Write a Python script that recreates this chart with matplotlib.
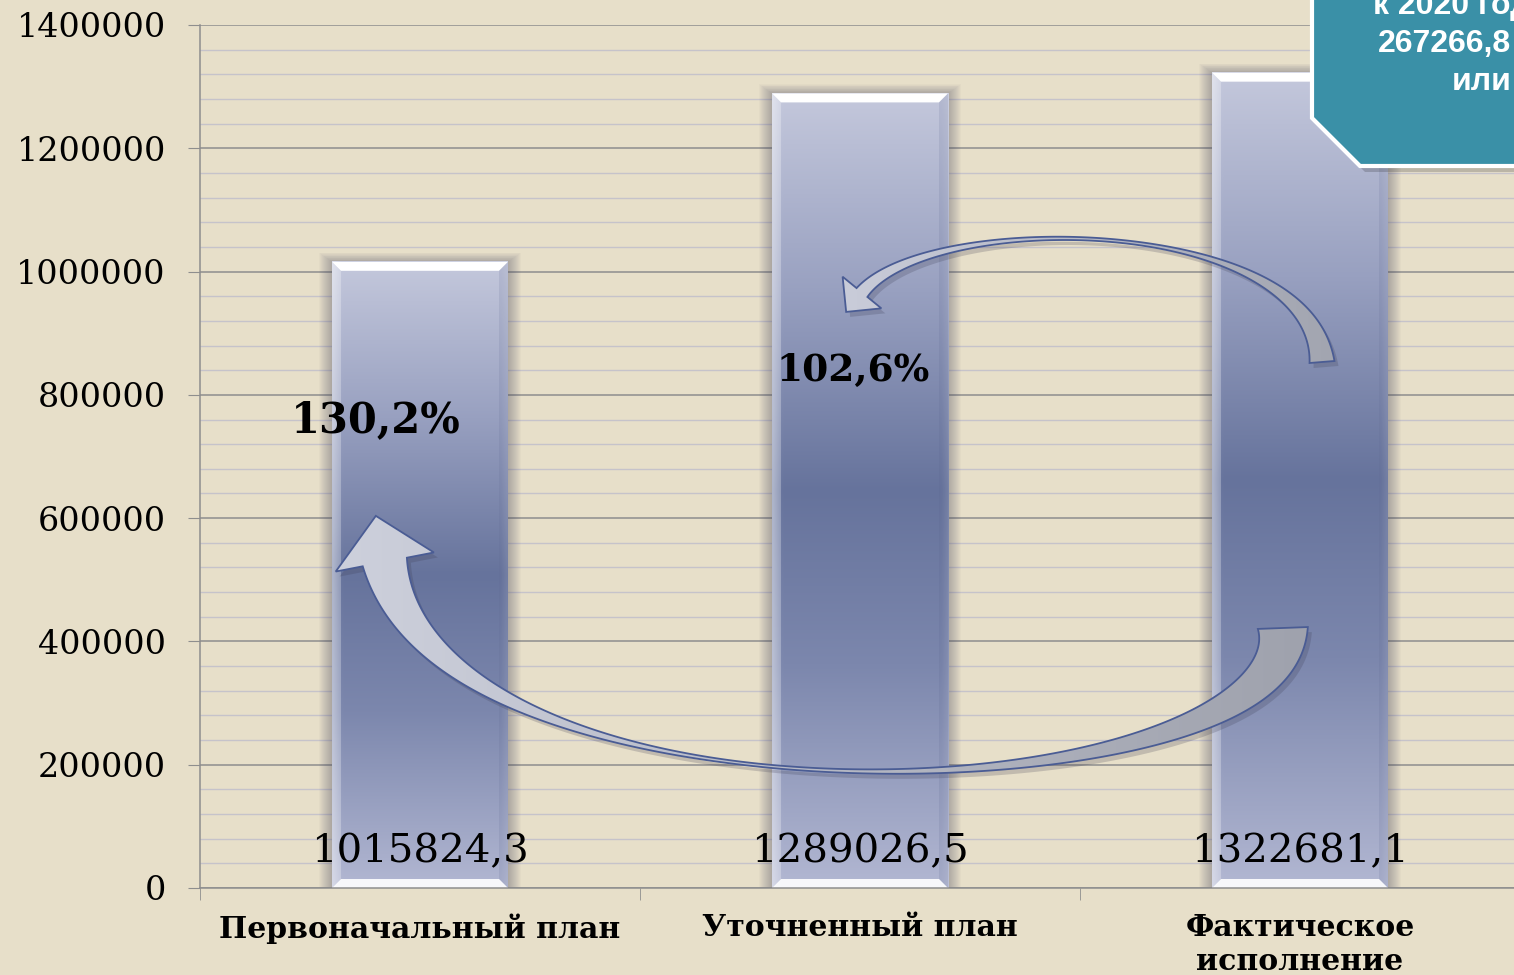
import matplotlib
matplotlib.use("Agg")
import matplotlib.pyplot as plt
import numpy as np
from matplotlib.patches import Polygon, Rectangle
from matplotlib.colors import to_rgb

# --- data ------------------------------------------------------------------
categories = ["Первоначальный план", "Уточненный план", "Фактическое\nисполнение"]
values = [1015824.3, 1289026.5, 1322681.1]
value_labels = ["1015824,3", "1289026,5", "1322681,1"]
growth_labels = ["130,2%", "102,6%"]
note_lines = ["к 2020 году", "267266,8", "или"]
y_max, y_step, y_minor = 1400000, 200000, 40000

# --- style -------------------------------------------------------------------
BG = "#e7dfc9"
GRID_MAJ, GRID_MIN = "#8e8e8e", "#c6c3ca"
BAR_STOPS = [(0.0, "#c4c8dc"), (0.25, "#98a0c0"), (0.5, "#66739c"),
             (0.72, "#7c87ad"), (1.0, "#b2b7d2")]
ARROW_EDGE = "#4a5c94"
TEAL = "#3a90a7"
SERIF = "DejaVu Serif"

W, H = 1514, 975
fig = plt.figure(figsize=(W / 100, H / 100), dpi=100, facecolor=BG)
ax = fig.add_axes([200 / W, 87 / H, 1320 / W, 863 / H])
ax.set_facecolor(BG)
ax.set_xlim(-0.5, 2.5)
ax.set_ylim(0, y_max)


def pxx(p):
    return p / 440.0


def pxy(p):
    return p * y_max / 863.0


def grad(stops, n=256):
    t = np.linspace(0, 1, n)
    pos = [s[0] for s in stops]
    cols = np.array([to_rgb(s[1]) for s in stops])
    return np.stack([np.interp(t, pos, cols[:, k]) for k in range(3)], axis=1)


# --- grid / axes ------------------------------------------------------------
ax.set_yticks(np.arange(0, y_max + 1, y_step))
ax.set_yticks(np.arange(0, y_max + 1, y_minor), minor=True)
ax.set_yticklabels([str(int(v)) for v in np.arange(0, y_max + 1, y_step)],
                   family=SERIF, fontsize=24)
ax.grid(which="major", axis="y", color=GRID_MAJ, lw=1.1, zorder=0)
ax.grid(which="minor", axis="y", color=GRID_MIN, lw=1.0, zorder=0)
ax.set_axisbelow(True)
ax.tick_params(axis="y", which="major", length=8.6, color=GRID_MAJ, pad=16)
ax.tick_params(axis="y", which="minor", length=0)
for s in ("top", "right"):
    ax.spines[s].set_visible(False)
for s in ("left", "bottom"):
    ax.spines[s].set_color(GRID_MAJ)
    ax.spines[s].set_linewidth(1.1)

x = np.arange(len(categories))
ax.set_xticks(x)
ax.set_xticklabels(categories, family=SERIF, fontsize=21.5, fontweight="bold",
                   linespacing=1.2)
ax.set_xticks(np.arange(-0.5, len(categories), 1.0), minor=True)
ax.tick_params(axis="x", which="major", length=0, pad=18)
ax.tick_params(axis="x", which="minor", length=8.6, color=GRID_MAJ)

# --- bars ----------------------------------------------------------------------
bars = ax.bar(x, values, width=0.4, color="none", zorder=2.5)
col = grad(BAR_STOPS)
for b in bars:
    x0, bw, h = b.get_x(), b.get_width(), b.get_height()
    x1 = x0 + bw
    # soft shadow
    for k in range(1, 14):
        ax.add_patch(Rectangle((x0 - pxx(k), 0), bw + 2 * pxx(k), h + pxy(k * 0.7),
                               color="#4d4d66", alpha=0.03, lw=0, zorder=1.5))
    img = np.repeat(col[:, None, :], 64, axis=1)
    cx = np.linspace(0, 1, 64)
    light = np.clip(1 - cx / 0.05, 0, 1) * 0.28 + np.clip((cx - 0.96) / 0.04, 0, 1) * 0.12
    img = img * (1 - light[None, :, None]) + light[None, :, None]
    ax.imshow(img, extent=(x0, x1, 0, h), aspect="auto", zorder=2,
              interpolation="bilinear")
    e, ey = pxx(9), pxy(9)
    ax.add_patch(Polygon([(x0, h), (x1, h), (x1 - e, h - ey), (x0 + e, h - ey)],
                         closed=True, color="white", lw=0, zorder=2.2))
    ax.add_patch(Polygon([(x0, h), (x0 + e, h - ey), (x0 + e, ey), (x0, 0)],
                         closed=True, color="white", alpha=0.25, lw=0, zorder=2.2))
    ax.add_patch(Polygon([(x1, h), (x1 - e, h - ey), (x1 - e, ey), (x1, 0)],
                         closed=True, color="#55608a", alpha=0.15, lw=0, zorder=2.2))
    ax.add_patch(Polygon([(x0, 0), (x1, 0), (x1 - e, ey), (x0 + e, ey)],
                         closed=True, color="white", alpha=0.9, lw=0, zorder=2.2))

for xi, lab in zip(x, value_labels):
    ax.text(xi, pxy(36), lab, ha="center", va="center", family=SERIF,
            fontsize=29, zorder=8)


# --- curved arrows -------------------------------------------------------------
def curved_arrow(ctrl, w_tail, w_min, t_min, w_neck, head_len, head_half,
                 c_head, c_tail):
    P = ax.transData.transform(np.asarray(ctrl, float))
    t = np.linspace(0, 1, 300)[:, None]
    B = ((1 - t) ** 3) * P[0] + 3 * ((1 - t) ** 2) * t * P[1] \
        + 3 * (1 - t) * t ** 2 * P[2] + t ** 3 * P[3]
    D = 3 * ((1 - t) ** 2) * (P[1] - P[0]) + 6 * (1 - t) * t * (P[2] - P[1]) \
        + 3 * t ** 2 * (P[3] - P[2])
    T = D / np.linalg.norm(D, axis=1, keepdims=True)
    N = np.column_stack([-T[:, 1], T[:, 0]])
    tt = t[:, 0]
    w = np.where(tt < t_min,
                 w_min + (w_tail - w_min) * ((t_min - tt) / t_min) ** 2,
                 w_min + (w_neck - w_min) * ((tt - t_min) / (1 - t_min)) ** 2)
    left = B + N * w[:, None] / 2
    right = B - N * w[:, None] / 2
    tip = P[3] + T[-1] * head_len
    b1 = P[3] + N[-1] * head_half
    b2 = P[3] - N[-1] * head_half
    poly = np.vstack([left, b1, tip, b2, right[::-1]])
    inv = ax.transData.inverted()
    shadow = inv.transform(poly + np.array([4, -5]))
    ax.add_patch(Polygon(shadow, closed=True, color="#3a3a50", alpha=0.22,
                         lw=0, zorder=4))
    pd = inv.transform(poly)
    patch = Polygon(pd, closed=True, facecolor="none", edgecolor=ARROW_EDGE,
                    lw=1.3, zorder=5.5)
    ax.add_patch(patch)
    g = grad([(0, c_head), (1, c_tail)], 128)
    img = np.repeat(g[None, :, :], 8, axis=0)
    xs, ys = pd[:, 0], pd[:, 1]
    im = ax.imshow(img, extent=(xs.min(), xs.max(), ys.min(), ys.max()),
                   aspect="auto", zorder=5, interpolation="bilinear")
    im.set_clip_path(patch)


# lower arrow: from the actual bar back to the initial plan
curved_arrow([(1.961, 421800), (1.977, 118400), (0.045, 69750), (-0.080, 528840)],
             w_tail=50, w_min=3, t_min=0.58, w_neck=45, head_len=47, head_half=50,
             c_head="#cdd0dc", c_tail="#9fa2ad")
# upper arrow: from the actual bar back to the revised plan
curved_arrow([(2.05, 853300), (2.023, 1093000), (1.159, 1101000), (1.0045, 966000)],
             w_tail=25, w_min=3, t_min=0.5, w_neck=14, head_len=25, head_half=25,
             c_head="#c9ccd9", c_tail="#a2a5b0")

ax.set_xlim(-0.5, 2.5)
ax.set_ylim(0, y_max)

ax.text(-0.1, 759200, growth_labels[0], ha="center", va="center", family=SERIF,
        fontsize=30, fontweight="bold", zorder=8)
ax.text(0.984, 840300, growth_labels[1], ha="center", va="center", family=SERIF,
        fontsize=27, fontweight="bold", zorder=8)

# --- note box (top right, partly off-canvas) --------------------------------
ov = fig.add_axes([0, 0, 1, 1], zorder=10)
ov.set_xlim(0, W)
ov.set_ylim(H, 0)
ov.axis("off")
ov.patch.set_alpha(0)
box = [(1312, -10), (1312, 118), (1360, 166), (1540, 166), (1540, -10)]
ov.add_patch(Polygon([(px + 5, py + 6) for px, py in box], closed=True,
                     color="#3a3a40", alpha=0.25, lw=0))
ov.add_patch(Polygon(box, closed=True, facecolor=TEAL, edgecolor="white", lw=3))
for (tx, ty), line in zip([(1373, 6), (1378, 44), (1452, 82)], note_lines):
    ov.text(tx, ty, line, ha="left", va="center", color="white",
            family="Liberation Sans", fontweight="bold", fontsize=23)

fig.savefig("out.png", dpi=100, facecolor=BG)
